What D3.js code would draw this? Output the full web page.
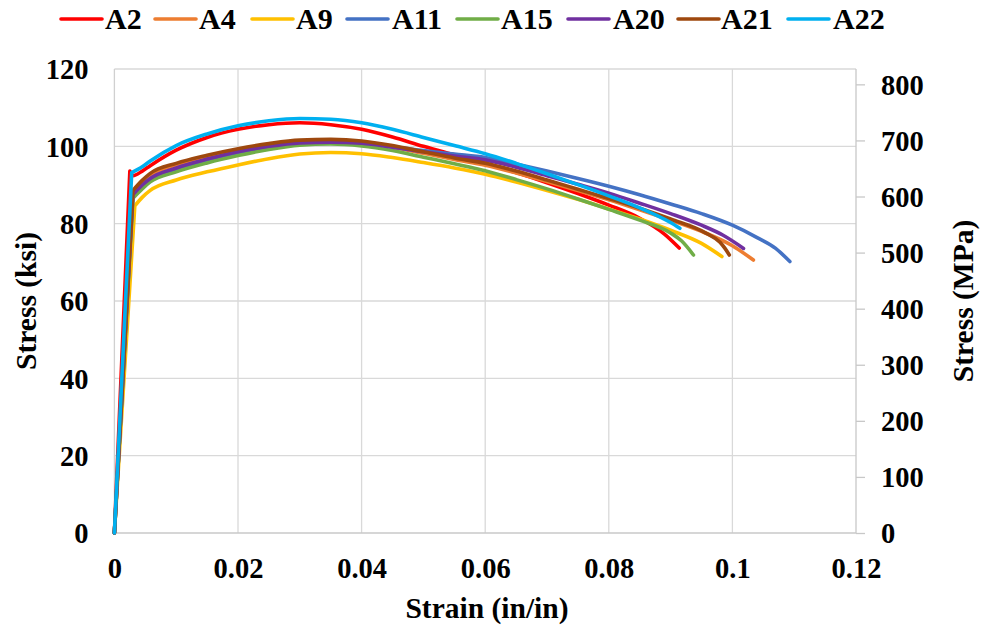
<!DOCTYPE html>
<html><head><meta charset="utf-8">
<script src="https://cdn.jsdelivr.net/npm/d3@7"></script>
<style>
html,body{margin:0;padding:0;background:#fff;}
text{font-family:"Liberation Serif","Times New Roman",serif;font-weight:bold;fill:#000;}
</style></head>
<body>
<svg id="chart" width="982" height="626"></svg>
<script>
// ---- data (strain in/in, stress ksi) ----
const seriesNames = ["A2","A4","A9","A11","A15","A20","A21","A22"];
const seriesColors = ["#FF0000","#ED7D31","#FFC000","#4472C4","#70AD47","#7030A0","#9E480E","#00B0F0"];

const strainA2  = [0,0.0025,0.003,0.0045,0.0058,0.01,0.015,0.02,0.025,0.03,0.035,0.04,0.045,0.05,0.055,0.06,0.065,0.07,0.075,0.08,0.085,0.089,0.0914];
const stressA2  = [0,93.6,92.4,93.6,95.0,99.0,102.3,104.4,105.6,106.1,105.6,104.4,102.4,100.0,97.8,95.6,93.2,90.6,87.8,84.8,81.4,77.3,73.7];

const strainA4  = [0,0.0030,0.0045,0.0058,0.01,0.015,0.02,0.025,0.03,0.035,0.04,0.045,0.05,0.055,0.06,0.065,0.07,0.075,0.08,0.085,0.09,0.095,0.1,0.1034];
const stressA4  = [0,88,90.9,92.5,95.2,97.3,99.0,100.3,101.2,101.4,101.0,99.8,98.2,96.6,95.1,93.1,90.9,88.6,86.2,83.6,80.9,78.0,74.3,70.6];

const strainA9  = [0,0.0033,0.0045,0.0058,0.01,0.015,0.02,0.025,0.03,0.035,0.04,0.045,0.05,0.055,0.06,0.065,0.07,0.075,0.08,0.085,0.09,0.095,0.0983];
const stressA9  = [0,84.6,86.8,88.6,91.3,93.4,95.2,96.8,98.0,98.4,98.1,97.1,95.8,94.4,92.8,90.8,88.6,86.3,83.8,81.2,78.3,74.9,71.5];

const strainA11 = [0,0.0030,0.0045,0.0058,0.01,0.015,0.02,0.025,0.03,0.035,0.04,0.045,0.05,0.055,0.06,0.065,0.07,0.075,0.08,0.085,0.09,0.095,0.1,0.104,0.107,0.1093];
const stressA11 = [0,87.8,89.9,91.3,94.0,96.3,98.2,99.6,100.6,100.9,100.6,99.9,98.9,98.0,97.1,95.4,93.6,91.7,89.7,87.5,85.1,82.6,79.6,76.4,73.6,70.2];

const strainA15 = [0,0.0030,0.0045,0.0058,0.01,0.015,0.02,0.025,0.03,0.035,0.04,0.045,0.05,0.055,0.06,0.065,0.07,0.075,0.08,0.085,0.09,0.0918,0.0937];
const stressA15 = [0,86.6,89.0,90.8,93.4,95.7,97.6,99.2,100.3,100.6,100.1,98.9,97.2,95.5,93.7,91.4,89.0,86.4,83.7,80.9,77.6,75.5,71.9];

const strainA20 = [0,0.0030,0.0045,0.0058,0.01,0.015,0.02,0.025,0.03,0.035,0.04,0.045,0.05,0.055,0.06,0.065,0.07,0.075,0.08,0.085,0.09,0.095,0.0985,0.1018];
const stressA20 = [0,87.5,90.0,91.7,94.4,96.7,98.6,100.0,100.9,101.1,100.8,99.8,98.6,97.5,96.5,94.6,92.4,90.2,87.9,85.3,82.6,79.6,77.0,73.6];

const strainA21 = [0,0.0030,0.0045,0.0058,0.01,0.015,0.02,0.025,0.03,0.035,0.04,0.045,0.05,0.055,0.06,0.065,0.07,0.075,0.08,0.085,0.09,0.0958,0.098,0.0988,0.0995];
const stressA21 = [0,88.6,91.2,93.0,95.6,97.7,99.4,100.7,101.6,101.8,101.4,100.2,98.6,97.0,95.6,93.6,91.3,88.9,86.5,84.0,81.2,77.5,75.2,73.6,71.9];

const strainA22 = [0,0.0028,0.0045,0.0058,0.01,0.015,0.02,0.025,0.03,0.035,0.04,0.045,0.05,0.055,0.06,0.065,0.07,0.075,0.08,0.085,0.09,0.0915];
const stressA22 = [0,93.2,94.7,96.2,100.2,103.2,105.3,106.6,107.2,107.0,106.1,104.4,102.3,100.2,98.1,95.6,92.9,90.1,87.2,84.1,80.3,78.8];

const strains  = [strainA2,strainA4,strainA9,strainA11,strainA15,strainA20,strainA21,strainA22];
const stresses = [stressA2,stressA4,stressA9,stressA11,stressA15,stressA20,stressA21,stressA22];

const xTicks = [0,0.02,0.04,0.06,0.08,0.1,0.12];
const xTickLabels = ["0","0.02","0.04","0.06","0.08","0.1","0.12"];
const yTicksKsi = [0,20,40,60,80,100,120];
const yTicksMPa = [0,100,200,300,400,500,600,700,800];
const KSI_TO_MPA = 6.894757;

// ---- layout ----
const svg = d3.select("#chart");
const L = 114.4, R = 856, T = 69, B = 533;
const FS_TICK = 28.5, FS_TITLE = 29.5, FS_LEG = 30;

const x = d3.scaleLinear().domain([0,0.12]).range([L,R]);
const y = d3.scaleLinear().domain([0,120]).range([B,T]);
const y2 = d3.scaleLinear().domain([0,120*KSI_TO_MPA]).range([B,T]);

// gridlines
const grid = svg.append("g");
grid.selectAll("line.h").data(yTicksKsi.slice(1)).join("line")
  .attr("x1",L).attr("x2",R).attr("y1",d=>y(d)).attr("y2",d=>y(d))
  .attr("stroke","#d9d9d9").attr("stroke-width",1.3);
grid.selectAll("line.v").data(xTicks.slice(1,-1)).join("line")
  .attr("x1",d=>x(d)).attr("x2",d=>x(d)).attr("y1",T).attr("y2",B)
  .attr("stroke","#d9d9d9").attr("stroke-width",1.3);

// axes lines
svg.append("line").attr("x1",L).attr("x2",L).attr("y1",T).attr("y2",B).attr("stroke","#d0d0d0").attr("stroke-width",1.3);
svg.append("line").attr("x1",L).attr("x2",R).attr("y1",B).attr("y2",B).attr("stroke","#c8c8c8").attr("stroke-width",1.3);

// right axis with outside ticks
const rAxis = d3.axisRight(y2).tickValues(yTicksMPa).tickSize(9).tickPadding(16).tickFormat(d3.format("d"));
const gR = svg.append("g").attr("transform",`translate(${R},0)`).call(rAxis);
gR.select(".domain").attr("stroke","#c8c8c8").attr("stroke-width",1.3).attr("d",`M0,${T}V${B}`);
gR.selectAll(".tick line").attr("stroke","#c8c8c8").attr("stroke-width",1.3);
gR.selectAll(".tick text").attr("font-size",FS_TICK).attr("font-family","Liberation Serif").attr("font-weight","bold").attr("fill","#000").attr("dy","0.35em");

// left axis labels
const lAxis = d3.axisLeft(y).tickValues(yTicksKsi).tickSize(0).tickPadding(26);
const gL = svg.append("g").attr("transform",`translate(${L},0)`).call(lAxis);
gL.select(".domain").remove();
gL.selectAll(".tick text").attr("font-size",FS_TICK).attr("font-family","Liberation Serif").attr("font-weight","bold").attr("fill","#000").attr("dy","0.35em");

// bottom axis labels
const bAxis = d3.axisBottom(x).tickValues(xTicks).tickSize(0).tickPadding(25).tickFormat((d,i)=>xTickLabels[i]);
const gB = svg.append("g").attr("transform",`translate(0,${B})`).call(bAxis);
gB.select(".domain").remove();
gB.selectAll(".tick text").attr("font-size",FS_TICK).attr("font-family","Liberation Serif").attr("font-weight","bold").attr("fill","#000");

// titles
svg.append("text").attr("x",487).attr("y",618).attr("text-anchor","middle").attr("font-size",FS_TITLE).text("Strain (in/in)");
svg.append("text").attr("transform","translate(36,301) rotate(-90)").attr("text-anchor","middle").attr("font-size",FS_TITLE).text("Stress (ksi)");
svg.append("text").attr("transform","translate(973,301) rotate(-90)").attr("text-anchor","middle").attr("font-size",FS_TITLE).text("Stress (MPa)");

// series: straight elastic segment, smooth plastic part
const elastic = d3.line().x(d=>x(d[0])).y(d=>y(d[1]));
const plastic = d3.line().x(d=>x(d[0])).y(d=>y(d[1])).curve(d3.curveMonotoneX);
const gS = svg.append("g");
seriesNames.forEach((name,i)=>{
  const pts = strains[i].map((s,j)=>[s,stresses[i][j]]);
  const dPath = elastic(pts.slice(0,2)) + plastic(pts.slice(1)).replace(/^M/,"L");
  gS.append("path").attr("d",dPath)
    .attr("fill","none").attr("stroke",seriesColors[i]).attr("stroke-width",3.6)
    .attr("stroke-linecap","round").attr("stroke-linejoin","round");
});

// legend
const legendLineX = [61,155,252,347,457,568,678,788];
const legendTextX = [105,199,296,392,501,613,721,833];
const gLeg = svg.append("g");
seriesNames.forEach((name,i)=>{
  const lx = legendLineX[i];
  gLeg.append("line").attr("x1",lx).attr("x2",lx+41).attr("y1",19).attr("y2",19)
    .attr("stroke",seriesColors[i]).attr("stroke-width",3.6).attr("stroke-linecap","round");
  gLeg.append("text").attr("x",legendTextX[i]).attr("y",29).attr("font-size",FS_LEG).text(name);
});
</script>
</body></html>
